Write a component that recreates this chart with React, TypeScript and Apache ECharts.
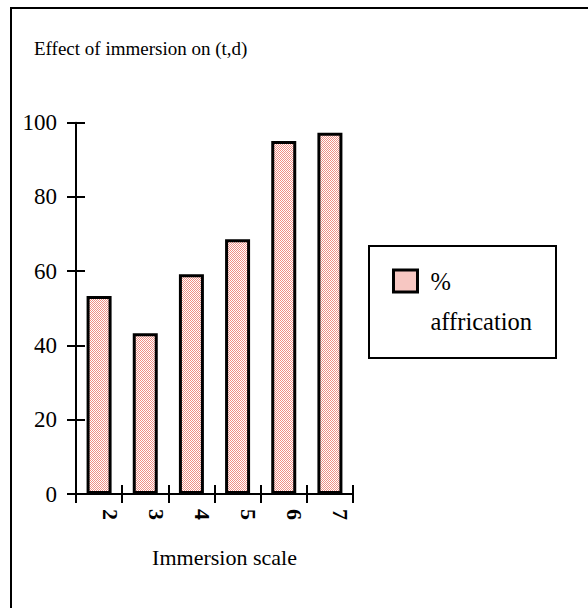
import React, { useEffect, useRef } from "react";
import * as echarts from "echarts";

const categories = ["2", "3", "4", "5", "6", "7"];
const affrication = [53.3, 43.3, 59.2, 68.6, 95.1, 97.3];
const seriesName = "% affrication";
const titleText = "Effect of immersion on (t,d)";
const xAxisName = "Immersion scale";
const yMin = 0;
const yMax = 100;
const yInterval = 20;

const FONT = "'Liberation Serif', 'Times New Roman', serif";

function makePattern(): HTMLCanvasElement {
  const c = document.createElement("canvas");
  c.width = 2;
  c.height = 2;
  const ctx = c.getContext("2d")!;
  ctx.fillStyle = "#ffffff";
  ctx.fillRect(0, 0, 2, 2);
  ctx.fillStyle = "#ef8f85";
  ctx.fillRect(0, 0, 1, 1);
  ctx.fillRect(1, 1, 1, 1);
  return c;
}

export default function App() {
  const ref = useRef<HTMLDivElement>(null);
  useEffect(() => {
    if (!ref.current) return;
    const chart = echarts.init(ref.current, undefined, { renderer: "svg" });
    const pattern = makePattern();
    const L = 40;
    chart.setOption({
      animation: false,
      backgroundColor: "#ffffff",
      title: {
        text: titleText,
        left: 34,
        top: 39,
        padding: 0,
        textStyle: { fontFamily: FONT, fontSize: 19, fontWeight: "normal", color: "#000" },
      },
      legend: {
        left: 392,
        top: 281 - 1.5 * L,
        padding: 0,
        itemWidth: 24,
        itemHeight: 22,
        icon: "rect",
        formatter: () => "\n%\naffrication",
        textStyle: {
          fontFamily: FONT,
          fontSize: 24.5,
          color: "#000",
          lineHeight: L,
          padding: [0, 0, 0, 8],
        },
        data: [
          {
            name: seriesName,
            itemStyle: {
              color: { image: pattern, repeat: "repeat" },
              borderColor: "#000",
              borderWidth: 3,
            },
          },
        ],
      },
      grid: { left: 76, top: 122.7, width: 277, height: 371.3, containLabel: false },
      xAxis: [
        {
          type: "category",
          data: categories,
          position: "bottom",
          boundaryGap: true,
          axisLine: { lineStyle: { color: "#000", width: 2 } },
          axisTick: { show: true, length: 9, lineStyle: { color: "#000", width: 2 } },
          axisLabel: {
            rotate: -90,
            margin: 15,
            fontFamily: FONT,
            fontSize: 22,
            fontWeight: "bold",
            color: "#000",
            verticalAlign: "bottom",
          },
          name: xAxisName,
          nameLocation: "middle",
          nameGap: 52,
          nameTextStyle: { fontFamily: FONT, fontSize: 22, color: "#000", padding: [0, 0, 0, 20] },
          splitLine: { show: false },
        },
        {
          type: "category",
          data: categories,
          position: "bottom",
          boundaryGap: true,
          axisLine: { show: false },
          axisTick: { show: true, inside: true, length: 9, lineStyle: { color: "#000", width: 2 } },
          axisLabel: { show: false },
          splitLine: { show: false },
        },
      ],
      yAxis: [
        {
          type: "value",
          min: yMin,
          max: yMax,
          interval: yInterval,
          position: "left",
          axisLine: { show: true, lineStyle: { color: "#000", width: 2 } },
          axisTick: { show: true, length: 9, lineStyle: { color: "#000", width: 2 } },
          axisLabel: { margin: 19, fontFamily: FONT, fontSize: 23, color: "#000" },
          splitLine: { show: false },
        },
        {
          type: "value",
          min: yMin,
          max: yMax,
          interval: yInterval,
          position: "left",
          axisLine: { show: false },
          axisTick: { show: true, inside: true, length: 9, lineStyle: { color: "#000", width: 2 } },
          axisLabel: { show: false },
          splitLine: { show: false },
        },
      ],
      series: [
        {
          name: seriesName,
          type: "bar",
          xAxisIndex: 0,
          yAxisIndex: 0,
          data: affrication,
          barWidth: 25,
          itemStyle: {
            color: { image: pattern, repeat: "repeat" },
            borderColor: "#000",
            borderWidth: 3,
          },
        },
      ],
      graphic: [
        {
          type: "rect",
          shape: { x: 11, y: 8, width: 620, height: 640 },
          style: { fill: "none", stroke: "#000", lineWidth: 2 },
          silent: true,
        },
        {
          type: "rect",
          shape: { x: 369, y: 246, width: 187, height: 112 },
          style: { fill: "none", stroke: "#000", lineWidth: 2 },
          silent: true,
        },
      ],
    });
    return () => chart.dispose();
  }, []);
  return (
    <div
      ref={ref}
      style={{ position: "absolute", left: 0, top: 0, width: 588, height: 608 }}
    />
  );
}
